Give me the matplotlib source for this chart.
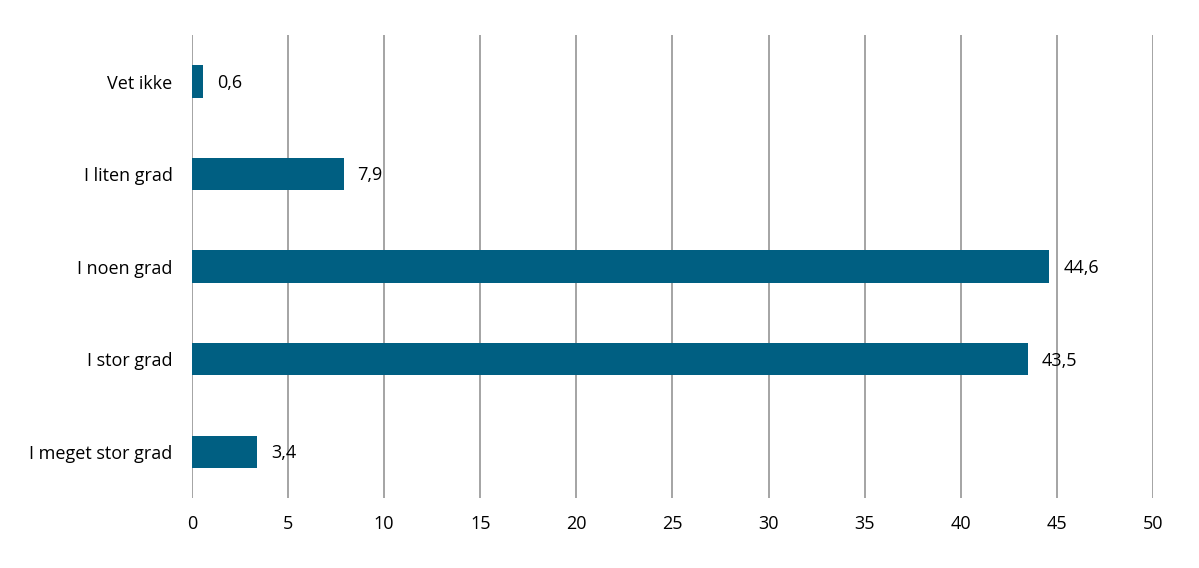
import matplotlib.pyplot as plt

categories = ['I meget stor grad', 'I stor grad', 'I noen grad', 'I liten grad', 'Vet ikke']
values = [3.4, 43.5, 44.6, 7.9, 0.6]
xticks = [0, 5, 10, 15, 20, 25, 30, 35, 40, 45, 50]

plt.rcParams['font.family'] = ['Open Sans', 'DejaVu Sans']
plt.rcParams['font.size'] = 13

fig = plt.figure(figsize=(11.99, 5.68), dpi=100)
ax = fig.add_axes([0.160, 0.123, 0.8017, 0.815])

pos = range(len(categories))
bars = ax.barh(pos, values, height=0.35, color='#005f82', zorder=3)

for b, v in zip(bars, values):
    ax.annotate(f'{v:.1f}'.replace('.', ','),
                (b.get_width(), b.get_y() + b.get_height() / 2),
                xytext=(10, -1), textcoords='offset points',
                va='center', ha='left', fontsize=13)

ax.set_xlim(0, 50)
ax.set_ylim(-0.5, 4.5)
ax.set_xticks(xticks)
ax.set_yticks(list(pos))
ax.set_yticklabels(categories)
ax.tick_params(length=0)
ax.tick_params(axis='x', pad=12)
ax.tick_params(axis='y', pad=14)
ax.xaxis.grid(True, color='#8c8c8c', linewidth=1.1, zorder=0)
ax.set_axisbelow(True)
for s in ax.spines.values():
    s.set_visible(False)

fig.savefig('out.png', dpi=100)
